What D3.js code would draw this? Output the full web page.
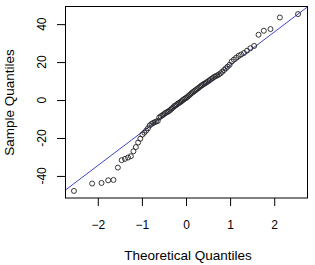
<!DOCTYPE html>
<html>
<head>
<meta charset="utf-8">
<script src="https://cdn.jsdelivr.net/npm/d3@7"></script>
<style>
  body { margin: 0; background: #fff; }
  text { font-family: "Liberation Sans", Arial, sans-serif; fill: #000; }
</style>
</head>
<body>
<div id="chart"></div>
<script>
// theoretical normal quantiles (n = 90) and sorted sample values
const theoretical = [
  -2.540, -2.128, -1.915, -1.764, -1.645, -1.545, -1.459, -1.383, -1.314, -1.250,
  -1.192, -1.137, -1.085, -1.036, -0.989, -0.945, -0.903, -0.862, -0.822, -0.783,
  -0.746, -0.710, -0.674, -0.640, -0.606, -0.573, -0.540, -0.508, -0.477, -0.446,
  -0.415, -0.385, -0.355, -0.326, -0.297, -0.268, -0.239, -0.210, -0.182, -0.154,
  -0.126, -0.098, -0.070, -0.042, -0.014,
  0.014, 0.042, 0.070, 0.098, 0.126, 0.154, 0.182, 0.210, 0.239, 0.268,
  0.297, 0.326, 0.355, 0.385, 0.415, 0.446, 0.477, 0.508, 0.540, 0.573,
  0.606, 0.640, 0.674, 0.710, 0.746, 0.783, 0.822, 0.862, 0.903, 0.945,
  0.989, 1.036, 1.085, 1.137, 1.192, 1.250, 1.314, 1.383, 1.459, 1.545,
  1.645, 1.764, 1.915, 2.128, 2.540
];
const sample = [
  -47.9, -44.0, -43.7, -42.3, -42.1, -35.6, -31.7, -31.0, -30.3, -29.6,
  -27.0, -24.8, -22.4, -20.4, -18.2, -17.2, -16.1, -14.9, -13.4, -12.6,
  -12.1, -11.7, -11.3, -11.0, -9.2, -8.6, -8.1, -7.6, -7.0, -6.6,
  -6.2, -5.8, -5.2, -4.6, -4.0, -3.3, -2.9, -2.4, -1.9, -1.5,
  -1.0, -0.6, 0.0, 0.5, 0.9, 1.3, 1.9, 2.4, 3.0, 3.6,
  4.1, 4.6, 5.1, 5.6, 6.1, 6.6, 7.2, 7.7, 8.1, 8.6,
  9.0, 9.5, 10.0, 10.5, 11.1, 11.6, 12.2, 12.6, 13.0, 13.5,
  14.1, 14.9, 15.8, 16.7, 17.6, 18.6, 20.3, 21.3, 22.3, 23.3,
  24.0, 24.8, 26.0, 27.3, 28.5, 34.4, 36.5, 37.4, 43.5, 45.3
];
const xTicks = [-2, -1, 0, 1, 2];
const yTicks = [-40, -20, 0, 20, 40];
const xTitle = "Theoretical Quantiles";
const yTitle = "Sample Quantiles";

const width = 315, height = 265;
const margin = { top: 7, right: 8, bottom: 67, left: 65 };
const innerWidth = width - margin.left - margin.right;
const innerHeight = height - margin.top - margin.bottom;

const svg = d3.select("#chart")
  .append("svg")
  .attr("width", width)
  .attr("height", height);

// R style 4% padding on both axes
function padded(values) {
  const [lo, hi] = d3.extent(values);
  const pad = (hi - lo) * 0.04;
  return [lo - pad, hi + pad];
}

const x = d3.scaleLinear().domain(padded(theoretical)).range([0, innerWidth]);
const y = d3.scaleLinear().domain(padded(sample)).range([innerHeight, 0]);

const g = svg.append("g")
  .attr("transform", `translate(${margin.left},${margin.top})`);

g.append("clipPath").attr("id", "plot-clip")
  .append("rect").attr("width", innerWidth).attr("height", innerHeight);

// Axes
const xAxis = g.append("g")
  .attr("transform", `translate(0,${innerHeight})`)
  .call(d3.axisBottom(x).tickValues(xTicks).tickSize(8).tickPadding(14).tickFormat(d3.format("d")));
xAxis.select(".domain").remove();
xAxis.selectAll("line").attr("stroke", "#000");
xAxis.selectAll("text").style("font-size", "12px").style("font-family", "Liberation Sans, Arial, sans-serif").attr("fill", "#000");

const yAxis = g.append("g")
  .call(d3.axisLeft(y).tickValues(yTicks).tickSize(8).tickFormat(""));
yAxis.select(".domain").remove();
yAxis.selectAll("line").attr("stroke", "#000");

// y tick labels, rotated like R's default
g.selectAll(".ylab")
  .data(yTicks)
  .enter()
  .append("text")
  .attr("class", "ylab")
  .attr("transform", d => `translate(${-19.5},${y(d)}) rotate(-90)`)
  .attr("text-anchor", "middle")
  .style("font-size", "12px")
  .text(d => d);

// qqline through the quartiles
const q1 = d3.quantile(sample, 0.25), q3 = d3.quantile(sample, 0.75);
const zq = 0.6745;
const slope = (q3 - q1) / (2 * zq);
const intercept = q1 + slope * zq;
const xd = x.domain();

g.append("line")
  .attr("clip-path", "url(#plot-clip)")
  .attr("x1", x(xd[0])).attr("y1", y(intercept + slope * xd[0]))
  .attr("x2", x(xd[1])).attr("y2", y(intercept + slope * xd[1]))
  .attr("stroke", "#3b46c4")
  .attr("stroke-width", 1);

// Points
g.selectAll(".pt")
  .data(sample.map((v, i) => ({ t: theoretical[i], s: v })))
  .enter()
  .append("circle")
  .attr("class", "pt")
  .attr("cx", d => x(d.t))
  .attr("cy", d => y(d.s))
  .attr("r", 2.5)
  .attr("fill", "none")
  .attr("stroke", "#222")
  .attr("stroke-width", 0.9);

// Box
g.append("rect")
  .attr("x", 0.5).attr("y", -0.5)
  .attr("width", innerWidth).attr("height", innerHeight + 0.5)
  .attr("fill", "none")
  .attr("stroke", "#000")
  .attr("stroke-width", 1);

// Titles
svg.append("text")
  .attr("x", margin.left + innerWidth / 2 + 2)
  .attr("y", 260)
  .attr("text-anchor", "middle")
  .style("font-size", "13.5px")
  .text(xTitle);

svg.append("text")
  .attr("transform", `translate(14,${margin.top + innerHeight / 2}) rotate(-90)`)
  .attr("text-anchor", "middle")
  .style("font-size", "13.5px")
  .text(yTitle);
</script>
</body>
</html>
